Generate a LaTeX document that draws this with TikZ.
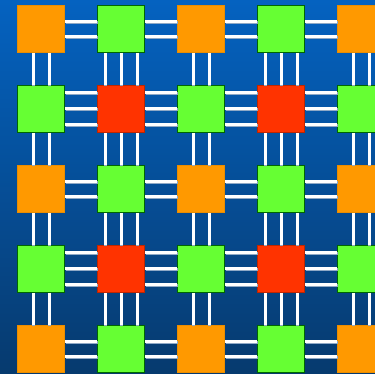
\documentclass[tikz,border=0pt]{standalone}
\usetikzlibrary{calc}
\definecolor{bgtop}{HTML}{0562C0}
\definecolor{bgbot}{HTML}{063A6E}
\definecolor{cornerorange}{HTML}{FF9900}
\definecolor{linkgreen}{HTML}{66FF33}
\definecolor{hubred}{HTML}{FF3300}
\definecolor{wireshade}{HTML}{8FA9C6}

\begin{document}
\begin{tikzpicture}[x=1pt,y=-1pt,
  tile/.style={minimum size=47pt,inner sep=0pt,line width=1pt},
  tile0/.style={tile,fill=cornerorange,draw=cornerorange!92!black},
  tile1/.style={tile,fill=linkgreen,draw=green!40!black},
  tile2/.style={tile,fill=hubred,draw=hubred!75!black},
  wire/.style={white,line width=3pt,
    preaction={draw=wireshade,line width=3pt,transform canvas={xshift=0.6pt,yshift=-0.8pt}}}]
  % background
  \shade[top color=bgtop,bottom color=bgbot] (0,0) rectangle (375,374);
  \useasboundingbox (0,0) rectangle (375,374);
  % tiles
  \foreach \r in {0,...,4}
    \foreach \c in {0,...,4}{
      \pgfmathtruncatemacro{\kind}{mod(\r,2)+mod(\c,2)}
      \node[tile\kind] (n-\r-\c) at ({41+80*\c},{29+80*\r}) {};
    }
  % horizontal wires, two in the orange rows, three in the red rows
  \foreach \r in {0,2,4}
    \foreach \c in {1,...,4}{
      \pgfmathtruncatemacro{\pc}{\c-1}
      \foreach \o in {-7.5,7.5}
        \draw[wire] ($(n-\r-\pc.east)+(0,\o)$) -- ($(n-\r-\c.west)+(0,\o)$);
    }
  \foreach \r in {1,3}
    \foreach \c in {1,...,4}{
      \pgfmathtruncatemacro{\pc}{\c-1}
      \foreach \o in {-16,0,16}
        \draw[wire] ($(n-\r-\pc.east)+(0,\o)$) -- ($(n-\r-\c.west)+(0,\o)$);
    }
  % vertical wires
  \foreach \c in {0,2,4}
    \foreach \r in {1,...,4}{
      \pgfmathtruncatemacro{\pr}{\r-1}
      \foreach \o in {-8,8}
        \draw[wire] ($(n-\pr-\c.south)+(\o,0)$) -- ($(n-\r-\c.north)+(\o,0)$);
    }
  \foreach \c in {1,3}
    \foreach \r in {1,...,4}{
      \pgfmathtruncatemacro{\pr}{\r-1}
      \foreach \o in {-16,0,16}
        \draw[wire] ($(n-\pr-\c.south)+(\o,0)$) -- ($(n-\r-\c.north)+(\o,0)$);
    }
\end{tikzpicture}
\end{document}
